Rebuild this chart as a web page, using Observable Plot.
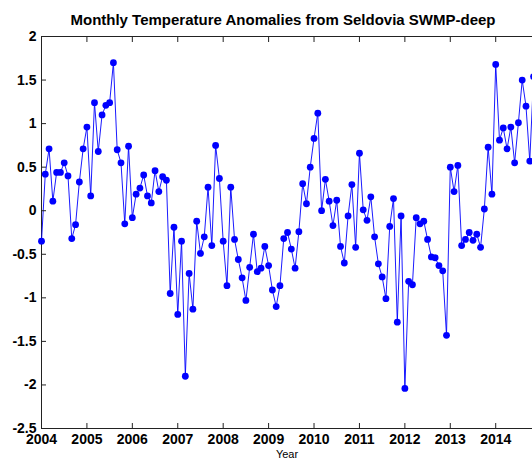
<!DOCTYPE html>
<html><head><meta charset="utf-8">
<script src="https://cdn.jsdelivr.net/npm/d3@7"></script>
<script src="https://cdn.jsdelivr.net/npm/@observablehq/plot@0.6"></script>
<style>html,body{margin:0;padding:0;background:#fff;overflow:hidden;width:532px;height:459px}</style>
</head><body><div id="chart"></div>
<script>
const title = "Monthly Temperature Anomalies from Seldovia SWMP-deep";
const xLabel = "Year";
const years = [2004, 2005, 2006, 2007, 2008, 2009, 2010, 2011, 2012, 2013, 2014];
// monthly anomalies, Jan..Dec of each year
const a2004 = [-0.35, 0.42, 0.71, 0.11, 0.44, 0.44, 0.55, 0.40, -0.32, -0.16, 0.33, 0.71];
const a2005 = [0.96, 0.17, 1.24, 0.68, 1.10, 1.21, 1.24, 1.70, 0.70, 0.55, -0.15, 0.74];
const a2006 = [-0.08, 0.19, 0.26, 0.41, 0.17, 0.09, 0.46, 0.22, 0.39, 0.35, -0.95, -0.19];
const a2007 = [-1.19, -0.35, -1.90, -0.72, -1.13, -0.12, -0.49, -0.30, 0.27, -0.40, 0.75, 0.37];
const a2008 = [-0.35, -0.86, 0.27, -0.33, -0.56, -0.77, -1.03, -0.65, -0.27, -0.70, -0.66, -0.41];
const a2009 = [-0.63, -0.91, -1.10, -0.86, -0.32, -0.25, -0.44, -0.66, -0.24, 0.31, 0.08, 0.50];
const a2010 = [0.83, 1.12, 0.00, 0.36, 0.11, -0.17, 0.12, -0.41, -0.60, -0.06, 0.30, -0.42];
const a2011 = [0.66, 0.01, -0.11, 0.16, -0.30, -0.61, -0.76, -1.01, -0.18, 0.14, -1.28, -0.06];
const a2012 = [-2.04, -0.81, -0.85, -0.08, -0.15, -0.12, -0.33, -0.53, -0.54, -0.63, -0.69, -1.43];
const a2013 = [0.50, 0.22, 0.52, -0.40, -0.33, -0.25, -0.34, -0.27, -0.42, 0.02, 0.73, 0.19];
const a2014 = [1.68, 0.81, 0.95, 0.71, 0.96, 0.55, 1.01, 1.50, 1.20, 0.57, 1.54];
const yTicks = [-2.5, -2, -1.5, -1, -0.5, 0, 0.5, 1, 1.5, 2];
const xTicks = [2004, 2005, 2006, 2007, 2008, 2009, 2010, 2011, 2012, 2013, 2014];

const series = [a2004, a2005, a2006, a2007, a2008, a2009, a2010, a2011, a2012, a2013, a2014];
const data = series.flatMap((vals, k) => vals.map((v, m) => ({t: years[k] + m / 12, v})));

const font = "'Liberation Sans', Arial, Helvetica, sans-serif";
const chart = Plot.plot({
  width: 532,
  height: 459,
  marginTop: 36,
  marginBottom: 31,
  marginLeft: 41,
  marginRight: 0,
  style: {fontFamily: font, background: "white", color: "#000"},
  x: {domain: [2004, 2014.81]},
  y: {domain: [-2.5, 2]},
  marks: [
    Plot.ruleY([2], {stroke: "#222"}),
    Plot.ruleY([-2.5], {stroke: "#222"}),
    Plot.ruleX([2004], {stroke: "#222"}),
    Plot.line(data, {x: "t", y: "v", stroke: "#0000ff", strokeWidth: 0.9}),
    Plot.dot(data, {x: "t", y: "v", r: 3.4, fill: "#0000ff"}),
    Plot.axisX(xTicks, {anchor: "bottom", tickSize: -5, tickPadding: 11, fontSize: 14, fontWeight: "bold", tickFormat: d => String(d), label: null, stroke: "#222"}),
    Plot.axisX(xTicks, {anchor: "top", tickSize: -5, tickFormat: () => "", label: null, stroke: "#222"}),
    Plot.axisY(yTicks, {anchor: "left", tickSize: -5, tickPadding: 10, fontSize: 14, fontWeight: "bold", tickFormat: d => String(d), label: null, stroke: "#222"}),
    Plot.text([title], {frameAnchor: "top", lineAnchor: "bottom", dy: -12, dx: -4, fontSize: 15, fontWeight: "bold", fill: "#000"}),
    Plot.text([xLabel], {frameAnchor: "bottom", lineAnchor: "top", dy: 22, fontSize: 11, fill: "#000"})
  ]
});
document.getElementById("chart").appendChild(chart);
</script>
</body></html>
